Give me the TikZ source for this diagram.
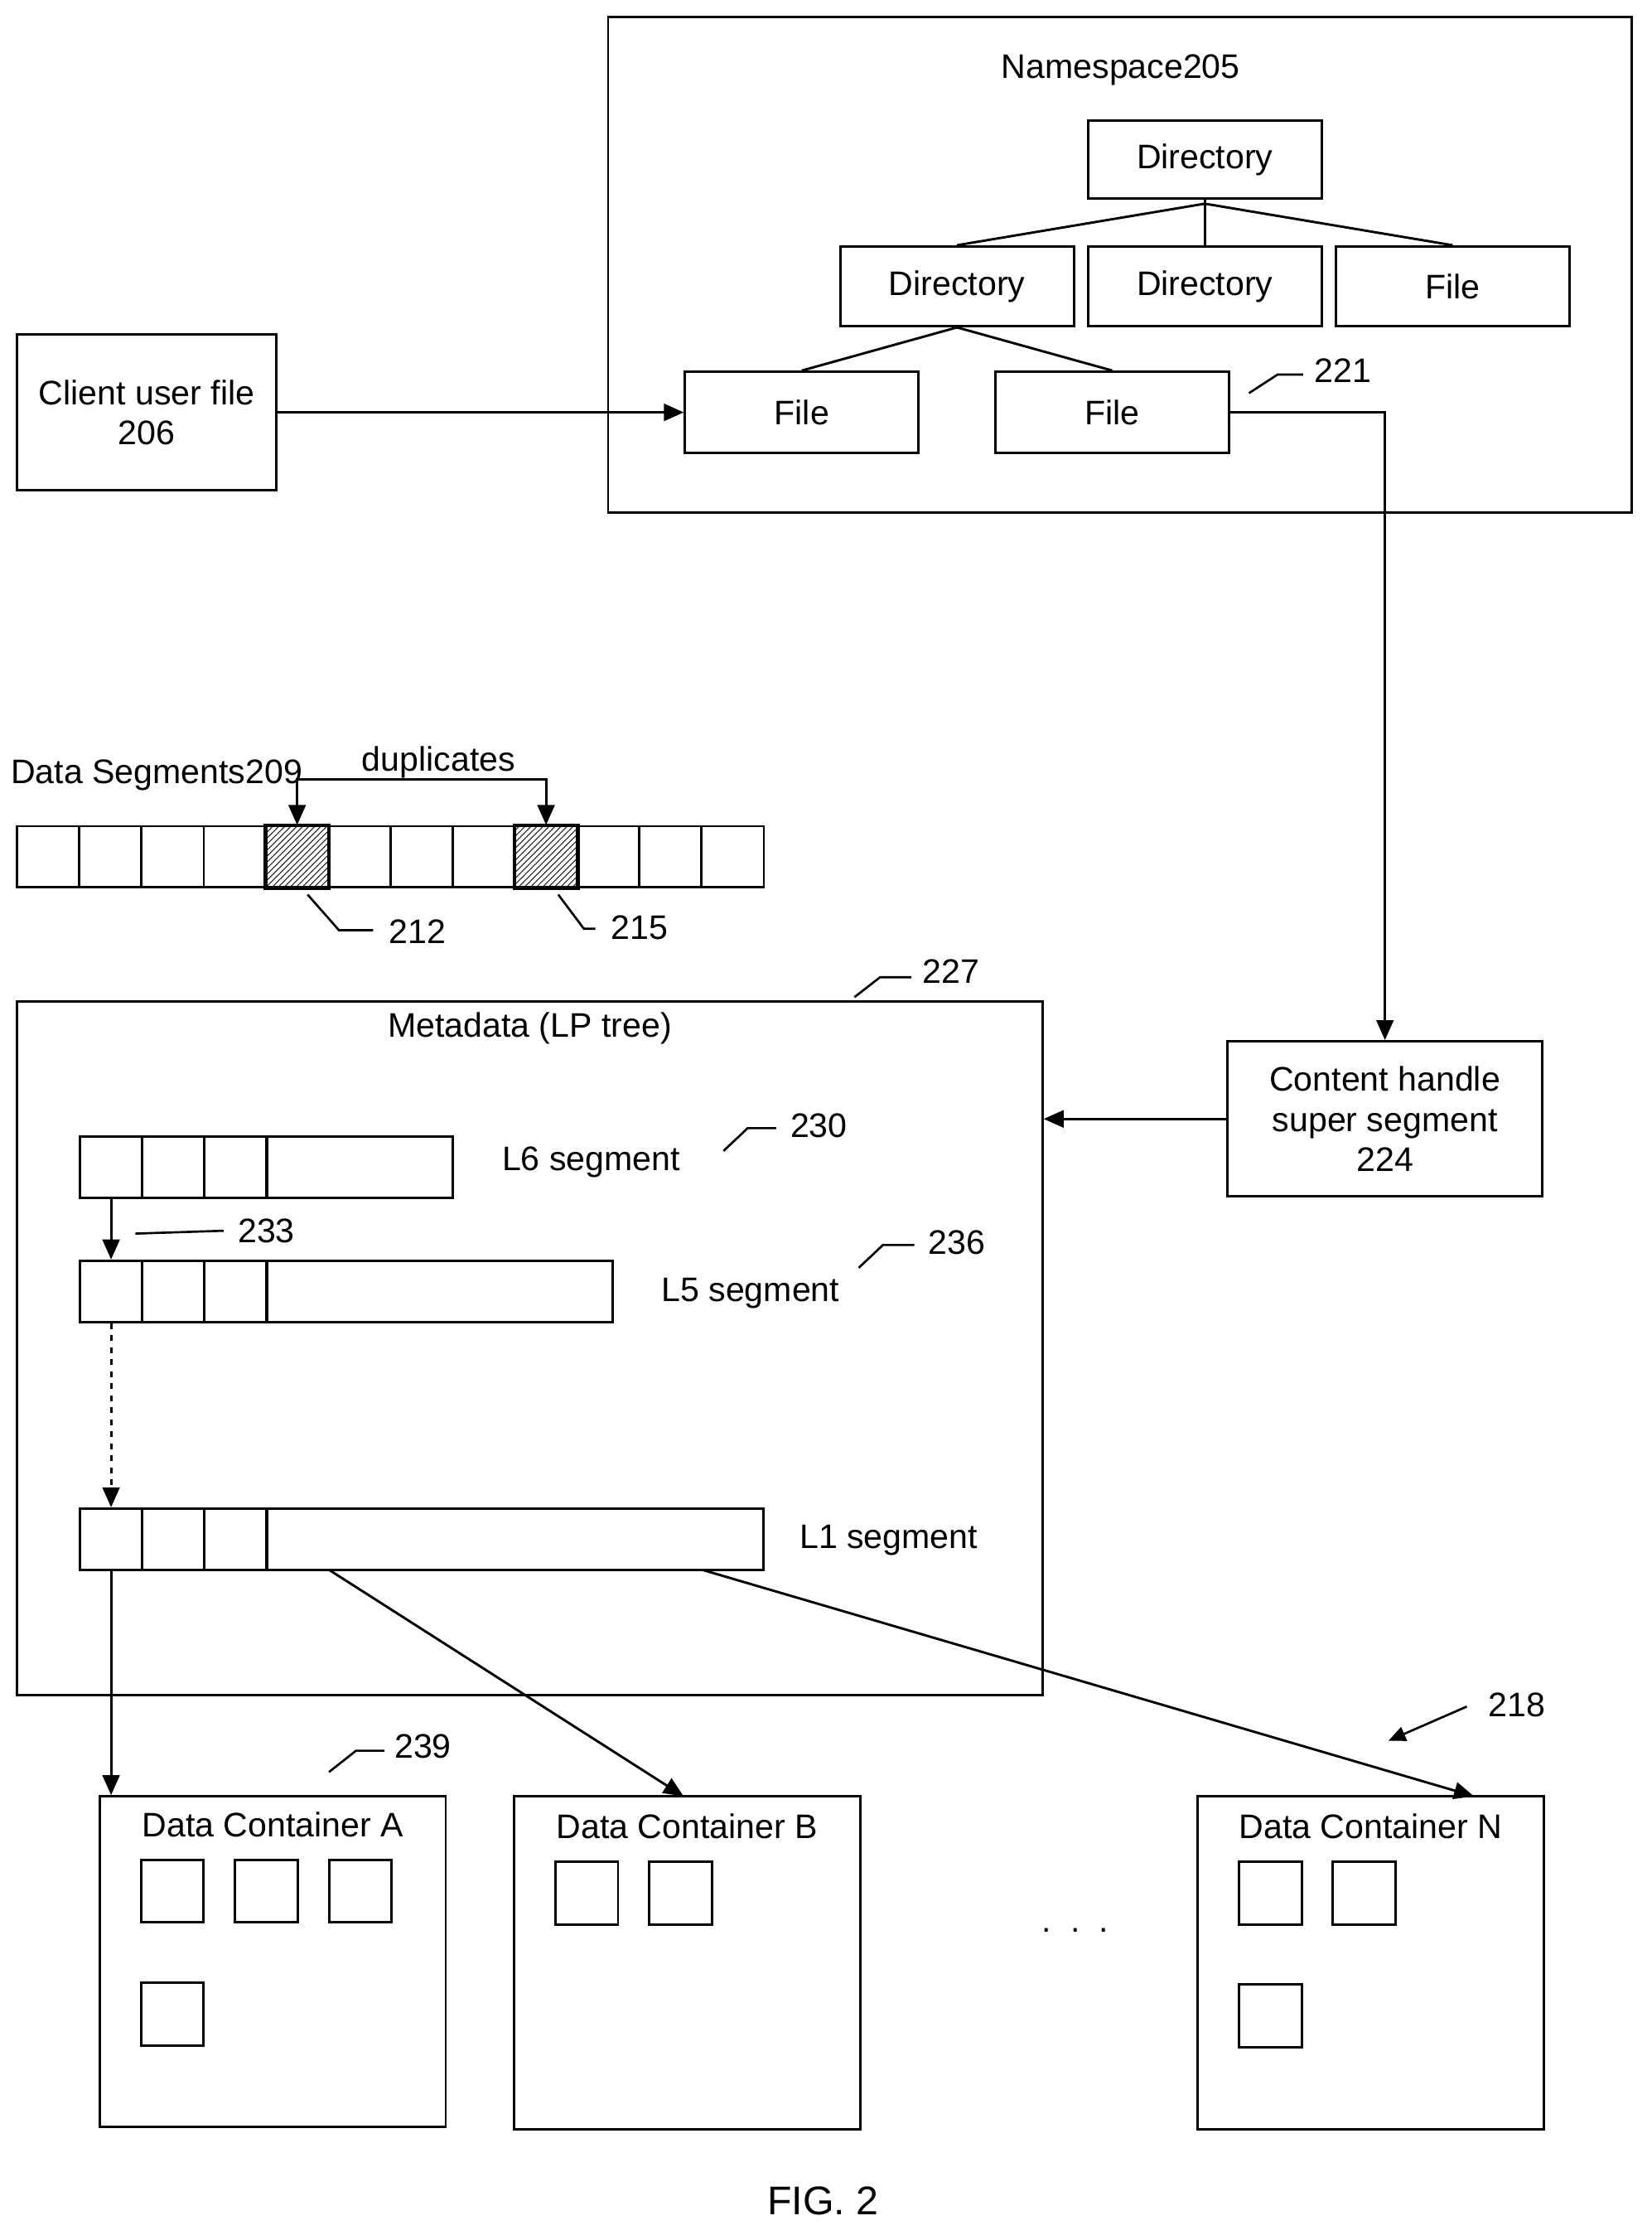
\documentclass[tikz,border=0pt]{standalone}
\usepackage{fontspec}
\setmainfont{Liberation Sans}
\usetikzlibrary{arrows.meta,patterns}
\tikzset{box/.style 2 args={draw, line width=1.2pt, minimum width=#1*0.025cm, minimum height=#2*0.025cm, align=center, inner sep=0pt}}
\tikzset{arrow/.style={line width=1.2pt,-{Triangle[length=3.5mm,width=3mm]}}}
\tikzset{lead/.style={line width=1.1pt}}
\tikzset{cell/.style={box={44}{44}}}
\begin{document}
\begin{tikzpicture}[x=0.025cm, y=-0.025cm, font=\fontsize{17}{20}\selectfont, line width=1.2pt]
	    \useasboundingbox (0,0) rectangle (1160,1569);

	    % namespace
	    \node[box={719}{348}] (ns) at (786.5,186) {};
	    \node (nslbl) at (787,49) {Namespace\\205};
	    \node[box={164}{55}] (d0) at (846,112) {Directory};
	    \node[box={164}{56}] (d1) at (672,201) {Directory};
	    \node[box={164}{56}] (d2) at (846,201) {Directory};
	    \node[box={164}{56}] (f0) at (1020,201) {File};
	    \node[box={164}{57}] (f1) at (563,289.5) {File};
	    \node[box={164}{57}] (f2) at (781,289.5) {File};
	    \coordinate (t0) at (846,143);
	    \draw (d0.south) -- (t0);
	    \draw (t0) -- (d1.north);
	    \draw (t0) -- (d2.north);
	    \draw (t0) -- (f0.north);
	    \draw (d1.south) -- (f1.north);
	    \draw (d1.south) -- (f2.north);
	    \node (l221) at (943,260) {221};
	    \draw[lead] (877,276) -- (897,263) -- (915,263);

	    \node[box={182}{109}] (client) at (103,289.5) {Client user file\\206};
	    \draw[arrow] (client.east |- f1) -- (f1.west);

	    % content handle
	    \node[box={221}{109}] (ch) at (972.5,785.5) {Content handle\\super segment\\224};
	    \draw[arrow] (f2.east) -| (ch.north);

	    % data segments
	    \node (dslbl) at (110,544) {Data Segments\\209};
	    \foreach \i in {0,...,11}
	      \node[box={43.7}{43}] (s\i) at (12+21.85+\i*43.7,601.5) {};
	    \fill[pattern=north east lines] (s4.south west) rectangle (s4.north east);
	    \fill[pattern=north east lines] (s8.south west) rectangle (s8.north east);
	    \draw (s4.south west) rectangle (s4.north east);
	    \draw (s8.south west) rectangle (s8.north east);
	    \node (dup) at (308,535) {duplicates};
	    \draw[arrow, {Triangle[length=3.5mm,width=3mm]}-{Triangle[length=3.5mm,width=3mm]}] (s4.north) -- ++(0,-32) -| (s8.north);
	    \node (l212) at (293,654) {212};
	    \draw[lead] (216,628) -- (238,653) -- (262,653);
	    \node (l215) at (449,651) {215};
	    \draw[lead] (392,628) -- (410,652) -- (418,652);

	    % metadata
	    \node[box={720}{487}] (md) at (372,946.5) {};
	    \node (mdlbl) at (372,722) {Metadata (LP tree)};
	    \node (l227) at (668,682) {227};
	    \draw[lead] (600,700) -- (618,686) -- (640,686);
	    \draw[arrow] (ch.west) -- (md.east |- ch.west);

	    % L6
	    \foreach \i in {0,...,2}
	      \node[box={44}{43}] (a\i) at (78+\i*43.7,819.5) {};
	    \node[box={131}{43}] (a3) at (252.5,819.5) {};
	    \node (l6) at (415,816) {L6 segment};
	    \node (l230) at (575,790) {230};
	    \draw[lead] (508,808) -- (525,792) -- (545,792);
	    % L5
	    \foreach \i in {0,...,2}
	      \node[box={44}{43}] (b\i) at (78+\i*43.7,906.5) {};
	    \node[box={243}{43}] (b3) at (308.5,906.5) {};
	    \node (l5) at (527,908) {L5 segment};
	    \node (l236) at (672,872) {236};
	    \draw[lead] (603,890) -- (620,874) -- (642,874);
	    \draw[arrow] (a0.south) -- (b0.north);
	    \node (l233) at (187,864) {233};
	    \draw[lead] (95,866) -- (157,864);
	    % L1
	    \foreach \i in {0,...,2}
	      \node[box={44}{43}] (c\i) at (78+\i*43.7,1080.5) {};
	    \node[box={349}{43}] (c3) at (361.5,1080.5) {};
	    \node (l1) at (624,1081) {L1 segment};
	    \draw[arrow, dashed] (b0.south) -- (c0.north);

	    % containers
	    \node[box={243}{232}] (ca) at (191.5,1377) {};
	    \node[box={243}{234}] (cb) at (482.5,1378) {};
	    \node[box={243}{234}] (cn) at (962.5,1378) {};
	    \node (cal) at (191.5,1281) {Data Container A};
	    \node (cbl) at (482.5,1282) {Data Container B};
	    \node (cnl) at (962.5,1282) {Data Container N};
	    \node[box={44}{44}] (ka1) at (121,1327.5) {};
	    \node[box={44}{44}] (ka2) at (187,1327.5) {};
	    \node[box={44}{44}] (ka3) at (253,1327.5) {};
	    \node[box={44}{44}] (ka4) at (121,1414) {};
	    \node[box={44}{44}] (kb1) at (412,1329) {};
	    \node[box={44}{44}] (kb2) at (478,1329) {};
	    \node[box={44}{44}] (kn1) at (892,1329) {};
	    \node[box={44}{44}] (kn2) at (958,1329) {};
	    \node[box={44}{44}] (kn3) at (892,1415) {};
	    \node (dots) at (755,1355) {.\ \ .\ \ .};
	    \node (l239) at (297,1226) {239};
	    \draw[lead] (231,1244) -- (250,1229) -- (270,1229);
	    \node (l218) at (1065,1197) {218};
	    \draw[lead, -{Triangle[length=3mm,width=2.6mm]}] (1030,1198) -- (975,1222);

	    \draw[arrow] (c0.south) -- (c0.south |- ca.north);
	    \draw[arrow] (231,1102) -- (480,1261);
	    \draw[arrow] (493,1102) -- (1035,1261);

	    \node (fig) at (578,1545) {\fontsize{20}{24}\selectfont FIG. 2};
	\end{tikzpicture}
\end{document}
